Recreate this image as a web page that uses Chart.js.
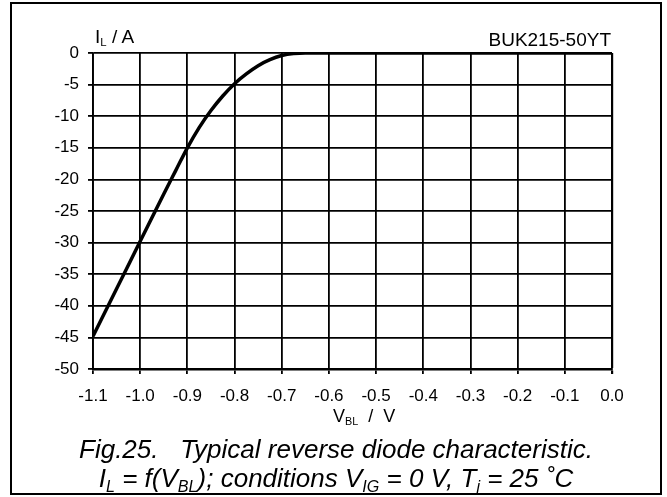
<!DOCTYPE html>
<html>
<head>
<meta charset="utf-8">
<script src="https://cdn.jsdelivr.net/npm/chart.js@4"></script>
<style>
    body { margin: 0; background: #fff; }
    #wrap { position: relative; width: 667px; height: 497px; background: #fff; font-family: "Liberation Sans", Arial, sans-serif; color: #000; }
    #c { position: absolute; left: 0; top: 0; }
    .frame { position: absolute; left: 10px; top: 2px; width: 652px; height: 493px; box-sizing: border-box; border: 2px solid #000; }
    .lbl { position: absolute; font-size: 19px; white-space: pre; line-height: 20px; }
    .s { font-size: 0.6em; vertical-align: -0.3em; line-height: 0; }
    .caption { position: absolute; left: 12px; width: 648px; top: 435px; text-align: center; white-space: pre;
        font-family: "Liberation Sans", Arial, sans-serif; font-style: italic; font-size: 26px; line-height: 29px; }
    .caption .s { font-size: 0.62em; vertical-align: -0.3em; }
</style>
</head>
<body>
<div id="wrap">
    <canvas id="c" width="667" height="497"></canvas>
    <div class="frame"></div>
    <div class="lbl" style="left:95px; top:27px;">I<span class="s">L</span> / A</div>
    <div class="lbl" style="right:56px; top:30px;">BUK215-50YT</div>
    <div class="lbl" style="left:333px; top:406px; font-size:18px;">V<span class="s">BL</span>  /  V</div>
    <div class="caption">Fig.25.   Typical reverse diode characteristic.
I<span class="s">L</span> = f(V<span class="s">BL</span>); conditions V<span class="s">IG</span> = 0 V, T<span class="s">j</span> = 25 ˚C</div>
</div>
<script>
// reverse diode curve
const vbl = [-1.1, -1.05, -1.0, -0.95, -0.925, -0.9, -0.875, -0.85, -0.825, -0.8, -0.775, -0.75, -0.725, -0.7, -0.675, -0.65, -0.6, -0.5, -0.4, -0.3, -0.2, -0.1, 0.0];
const il = [-44.8, -37.3, -29.8, -22.3, -18.65, -15.0, -11.8, -9.1, -6.8, -4.85, -3.3, -2.0, -1.05, -0.4, -0.08, 0, 0, 0, 0, 0, 0, 0, 0];

const xTicks = [-1.1, -1.0, -0.9, -0.8, -0.7, -0.6, -0.5, -0.4, -0.3, -0.2, -0.1, 0.0];
const yTicks = [0, -5, -10, -15, -20, -25, -30, -35, -40, -45, -50];

const tickFont = { family: '"Liberation Sans", Arial, sans-serif', size: 17 };

new Chart(document.getElementById('c'), {
    type: 'line',
    data: {
        datasets: [{
            data: vbl.map((v, i) => ({ x: v, y: il[i] })),
            borderColor: '#000',
            borderWidth: 3.5,
            pointRadius: 0,
            cubicInterpolationMode: 'monotone',
            fill: false
        }]
    },
    options: {
        responsive: false,
        animation: false,
        layout: { padding: { left: 0, top: 53, right: 55, bottom: 0 } },
        plugins: { legend: { display: false }, tooltip: { enabled: false } },
        scales: {
            x: {
                type: 'linear',
                min: -1.1,
                max: 0,
                afterBuildTicks: s => { s.ticks = xTicks.map(v => ({ value: v })); },
                afterFit: s => { s.height = 128; },
                ticks: { color: '#000', font: tickFont, padding: 12, maxRotation: 0, autoSkip: false,
                    callback: v => v.toFixed(1) },
                grid: { color: '#000', lineWidth: ctx => ctx.tick && ctx.tick.value === 0 ? 2.2 : 1.8, tickLength: 5 },
                border: { color: '#000', width: 2.5 }
            },
            y: {
                min: -50,
                max: 0,
                afterBuildTicks: s => { s.ticks = yTicks.map(v => ({ value: v })); },
                afterFit: s => { s.width = 93; },
                ticks: { color: '#000', font: tickFont, padding: 9, autoSkip: false,
                    callback: v => String(v) },
                grid: { color: '#000', lineWidth: 1.8, tickLength: 5 },
                border: { color: '#000', width: 1.8 }
            }
        }
    }
});
</script>
</body>
</html>
